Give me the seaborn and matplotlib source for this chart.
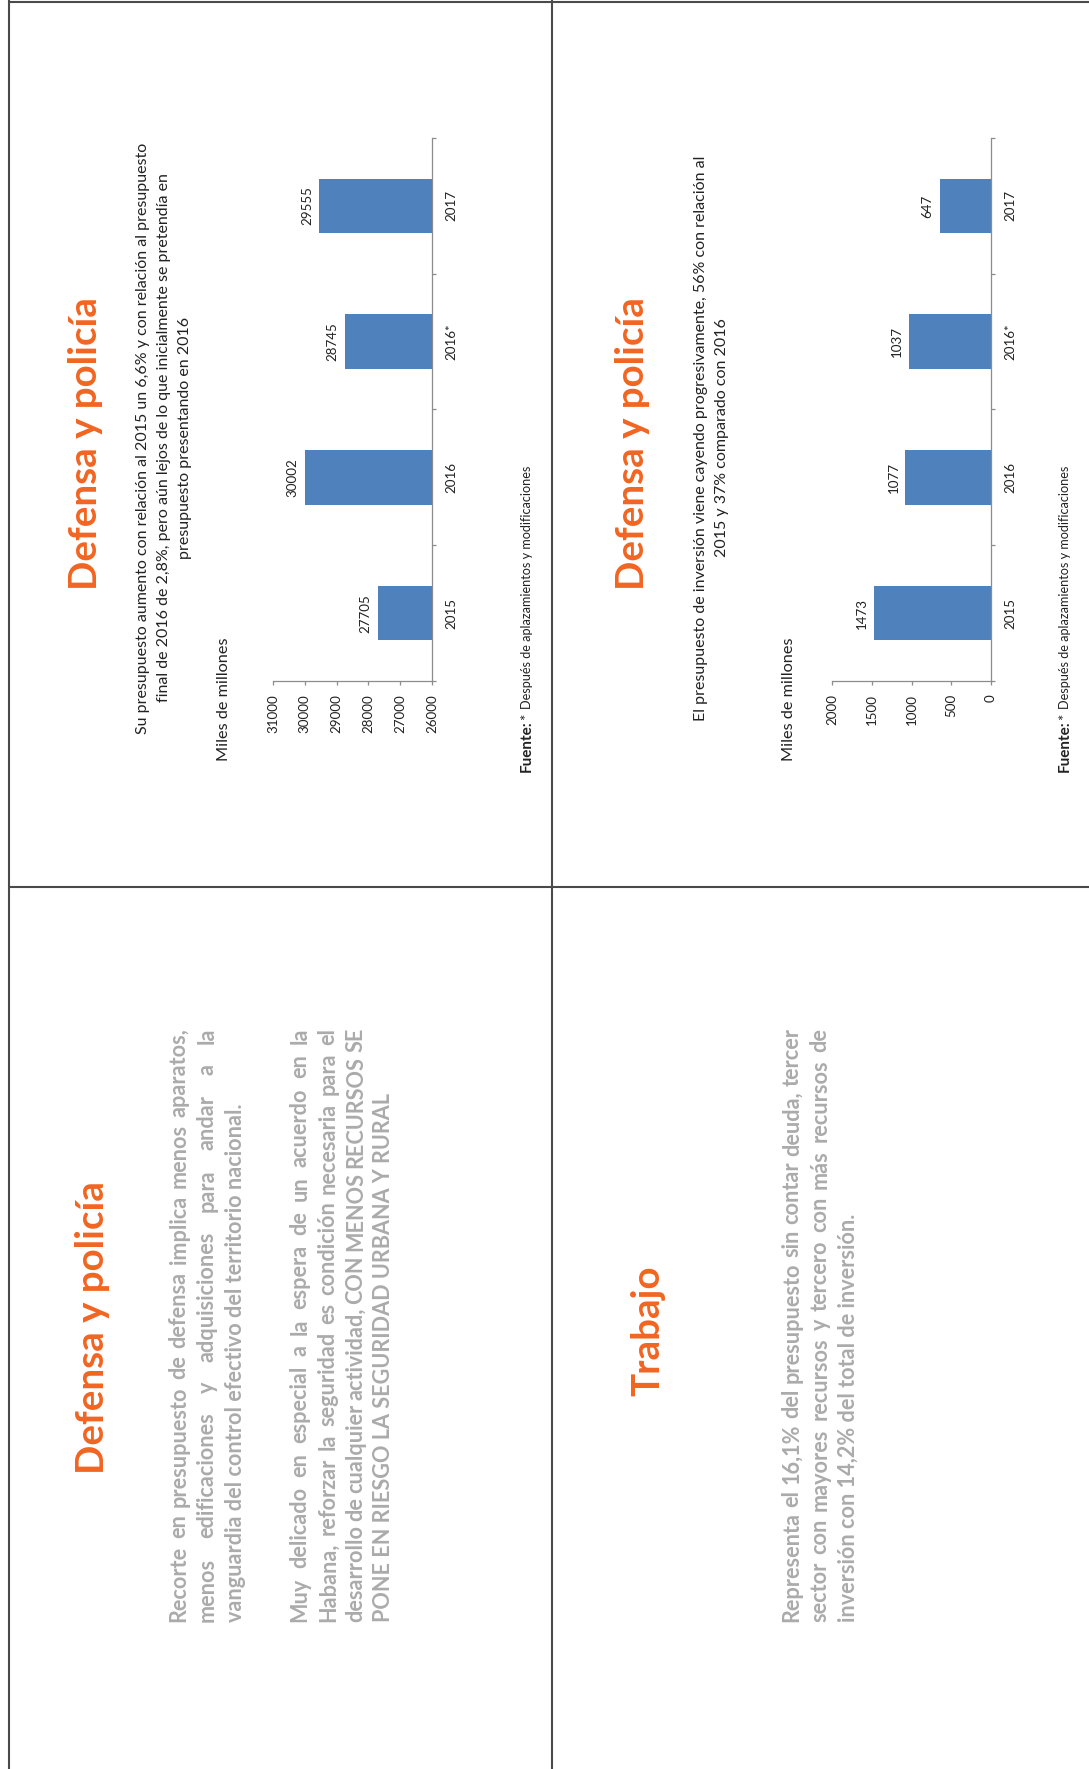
import matplotlib
matplotlib.use("Agg")
import matplotlib.pyplot as plt
from matplotlib.lines import Line2D
import seaborn as sns

# datos de las dos graficas
anios = ["2015", "2016", "2016*", "2017"]
presupuesto = [27705, 30002, 28745, 29555]
inversion = [1473, 1077, 1037, 647]
ticks_presupuesto = [26000, 27000, 28000, 29000, 30000, 31000]
ticks_inversion = [0, 500, 1000, 1500, 2000]

titulo = "Defensa y policía"
titulo_trabajo = "Trabajo"
sub_presupuesto = [
    "Su presupuesto aumento con relación al 2015 un 6,6% y con relación al presupuesto",
    "final de 2016 de 2,8%, pero aún lejos de lo que inicialmente se pretendía en",
    "presupuesto presentando en 2016",
]
sub_inversion = [
    "El presupuesto de inversión viene cayendo progresivamente, 56% con relación al",
    "2015 y 37% comparado con 2016",
]
unidad = "Miles de millones"
fuente = "Fuente:"
nota = "Después de aplazamientos y modificaciones"
parrafo_recorte = [
    "Recorte en presupuesto de defensa implica menos aparatos,",
    "menos edificaciones y adquisiciones para andar a la",
    "vanguardia del control efectivo del territorio nacional.",
]
parrafo_habana = [
    "Muy delicado en especial a la espera de un acuerdo en la",
    "Habana, reforzar la seguridad es condición necesaria para el",
    "desarrollo de cualquier actividad, CON MENOS RECURSOS SE",
    "PONE EN RIESGO LA SEGURIDAD URBANA Y RURAL",
]
parrafo_trabajo = [
    "Representa el 16,1% del presupuesto sin contar deuda, tercer",
    "sector con mayores recursos y tercero con más recursos de",
    "inversión con 14,2% del total de inversión.",
]

W, H = 1089, 1769
NARANJA = "#F26522"
GRIS = "#ABABAB"
AZUL = "#4F81BD"
EJE = "#8C8C8C"
NEGRO = "#222222"

sns.set_style("ticks")
plt.rcParams["font.family"] = ["Lato", "DejaVu Sans"]

fig = plt.figure(figsize=(W / 100, H / 100), dpi=100)
rend = fig.canvas.get_renderer()


def texto(x, y, s, size, ha="center", va="center", **kw):
    # todo va girado 90 grados; x, y en pixeles desde arriba a la izquierda
    return fig.text(x / W, 1 - y / H, s, rotation=90, rotation_mode="anchor",
                    ha=ha, va=va, fontsize=size, **kw)


def ajustar(s, objetivo, **kw):
    t = texto(0, 0, s, 20, **kw)
    n = t.get_window_extent(rend).height
    t.remove()
    return 20 * objetivo / n


def parrafo(lineas, xs, y0, ancho, size):
    kw = dict(color=GRIS, fontweight="bold")
    for i, (linea, x) in enumerate(zip(lineas, xs)):
        if i == len(lineas) - 1:
            texto(x, y0, linea, size, ha="left", **kw)
            continue
        palabras = linea.split()
        arts = [texto(x, y0, p, size, ha="left", **kw) for p in palabras]
        largos = [a.get_window_extent(rend).height for a in arts]
        hueco = (ancho - sum(largos)) / (len(palabras) - 1)
        y = y0
        for a, n in zip(arts, largos):
            a.set_y(1 - y / H)
            y -= n + hueco


# bordes de la pagina
for xs, ys in [([9, 9], [0, H]), ([552, 552], [0, H]),
               ([9, W], [2, 2]), ([9, W], [887, 887])]:
    fig.add_artist(Line2D([x / W for x in xs], [1 - y / H for y in ys],
                          color="#4A4A4A", lw=1.5, transform=fig.transFigure))

t_size = ajustar(titulo, 293, fontweight="bold")
sub_size = ajustar(sub_presupuesto[0], 594)
uni_size = ajustar(unidad, 124)
tick_size = ajustar("2015", 31)
fu_size = ajustar(fuente, 52, fontweight="bold")
nota_size = ajustar(nota, 244)
body_size = ajustar(parrafo_recorte[-1], 518, fontweight="bold")


def grafica(left, valores, ticks, lims, sub, xsub, xuni, xfu, xtit):
    ax = fig.add_axes([left / W, 1 - 681 / H, 159 / W, (681 - 138) / H])
    sns.barplot(x=valores, y=anios, orient="h", color=AZUL, saturation=1,
                width=0.4, errorbar=None, linewidth=0, ax=ax)
    ax.set_facecolor("none")
    ax.set_xlim(lims)
    ax.set_ylim(-0.5, 3.5)
    ax.set_xticks(ticks)
    ax.set_yticks([-0.5, 0.5, 1.5, 2.5, 3.5], minor=True)
    ax.yaxis.tick_right()
    ax.set_xlabel("")
    ax.set_ylabel("")
    for s in ["left", "top"]:
        ax.spines[s].set_visible(False)
    for s in ["right", "bottom"]:
        ax.spines[s].set_color(EJE)
        ax.spines[s].set_linewidth(0.9)
    ax.tick_params(axis="x", labelrotation=90, length=3, width=0.9, color=EJE,
                   pad=6.3, labelsize=tick_size, labelcolor=NEGRO)
    ax.tick_params(axis="y", which="major", length=0, pad=9.4,
                   labelsize=tick_size, labelcolor=NEGRO, labelrotation=90)
    ax.tick_params(axis="y", which="minor", length=3, width=0.9, color=EJE,
                   right=True, left=False)
    for lab in ax.get_yticklabels():
        lab.set_va("center")
    ax.bar_label(ax.containers[0], rotation=90, padding=4.3,
                 fontsize=tick_size, color=NEGRO)

    texto(xtit, 444, titulo, t_size, color=NARANJA, fontweight="bold")
    for x, linea in zip(xsub, sub):
        texto(x, 438, linea, sub_size, color=NEGRO)
    texto(xuni, 699, unidad, uni_size, color=NEGRO)
    texto(xfu, 772, fuente, fu_size, ha="left", va="baseline",
          color=NEGRO, fontweight="bold")
    texto(xfu, 720, "*", fu_size, ha="left", va="baseline", color=NEGRO)
    texto(xfu, 709, nota, nota_size, ha="left", va="baseline", color=NEGRO)
    return ax


grafica(273, presupuesto, ticks_presupuesto, (31000, 26000),
        sub_presupuesto, [143, 164, 185], 224, 531, 86)
grafica(832, inversion, ticks_inversion, (2000, 0),
        sub_inversion, [701, 722], 789, 1069, 633)

# diapositivas de texto
texto(93, 1328, titulo, t_size, color=NARANJA, fontweight="bold")
parrafo(parrafo_recorte, [179, 207, 235], 1622, 594, body_size)
parrafo(parrafo_habana, [300, 328, 356, 384], 1622, 594, body_size)

texto(648, 1331, titulo_trabajo, t_size, color=NARANJA, fontweight="bold")
parrafo(parrafo_trabajo, [792, 820, 848], 1622, 594, body_size)

fig.savefig("out.png", dpi=100, facecolor="white")
